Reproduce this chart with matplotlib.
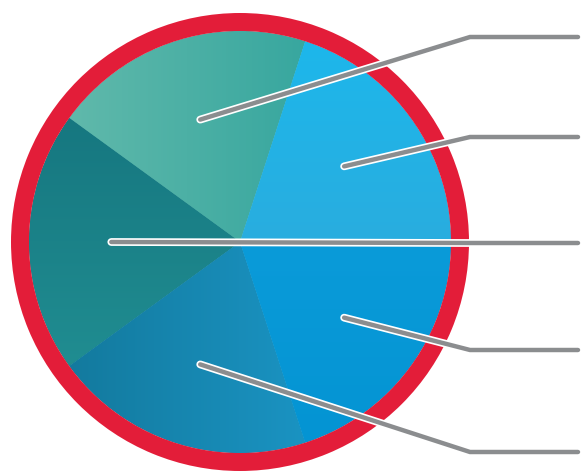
import numpy as np
import matplotlib
matplotlib.use('Agg')
import matplotlib.pyplot as plt
import matplotlib.patheffects as pe
from matplotlib.patches import Wedge
from matplotlib.colors import LinearSegmentedColormap

# five equal slices, counter-clockwise from the top-left one
values = [1, 1, 1, 1, 1]
colors = ['#4fb3a7', '#1b7f86', '#1584ae', '#079ad8', '#24b2e7']
# (start, end, direction) of a soft gradient on each slice; y runs top->bottom
shades = [('#60b9ab', '#38a79f', 'x'),
          ('#167780', '#208d91', 'y'),
          ('#137a9e', '#1a93c2', 'x'),
          ('#0a9bd9', '#0494d3', 'y'),
          ('#1db7eb', '#29addf', 'y')]
# height (pixel row from top) where each slice's leader line ends
leader_rows = [37, 243, 452, 350, 137]

W, H = 581, 473
cx, cy = 240, H - 242
r_in, ring = 211, 18
elbow_x, end_x = 470, 578

fig = plt.figure(figsize=(W / 100, H / 100), dpi=100)
ax = fig.add_axes([0, 0, 1, 1])

wedges, _ = ax.pie(values, colors=colors, startangle=72, counterclock=True,
                   radius=r_in, center=(cx, cy), frame=True,
                   wedgeprops=dict(linewidth=0))

for w, (c0, c1, d) in zip(wedges, shades):
    cmap = LinearSegmentedColormap.from_list('s', [c0, c1])
    g = np.linspace(0, 1, 256)
    img = g[None, :] if d == 'x' else g[:, None]
    bb = w.get_path().get_extents(w.get_transform() - ax.transData)
    im = ax.imshow(img, cmap=cmap, extent=[bb.x0, bb.x1, bb.y0, bb.y1],
                   origin='upper', aspect='auto', zorder=2, interpolation='bilinear')
    im.set_clip_path(w)

ax.set_xlim(0, W)
ax.set_ylim(0, H)
ax.set_aspect('equal')
ax.axis('off')

ax.add_patch(Wedge((cx, cy), r_in + ring, 0, 360, width=ring,
                   facecolor='#e31d39', edgecolor='none', zorder=3))

halo = [pe.Stroke(linewidth=5.6, foreground='white'), pe.Normal()]
for w, row in zip(wedges, leader_rows):
    mid = np.deg2rad((w.theta1 + w.theta2) / 2)
    x0 = cx + 0.61 * r_in * np.cos(mid)
    y0 = cy + 0.61 * r_in * np.sin(mid)
    yl = H - row
    ax.plot([x0, elbow_x, end_x], [y0, yl, yl], color='#8b8d8f', lw=3.2,
            solid_capstyle='round', solid_joinstyle='miter',
            path_effects=halo, zorder=4)

fig.savefig('out.png', dpi=100)
